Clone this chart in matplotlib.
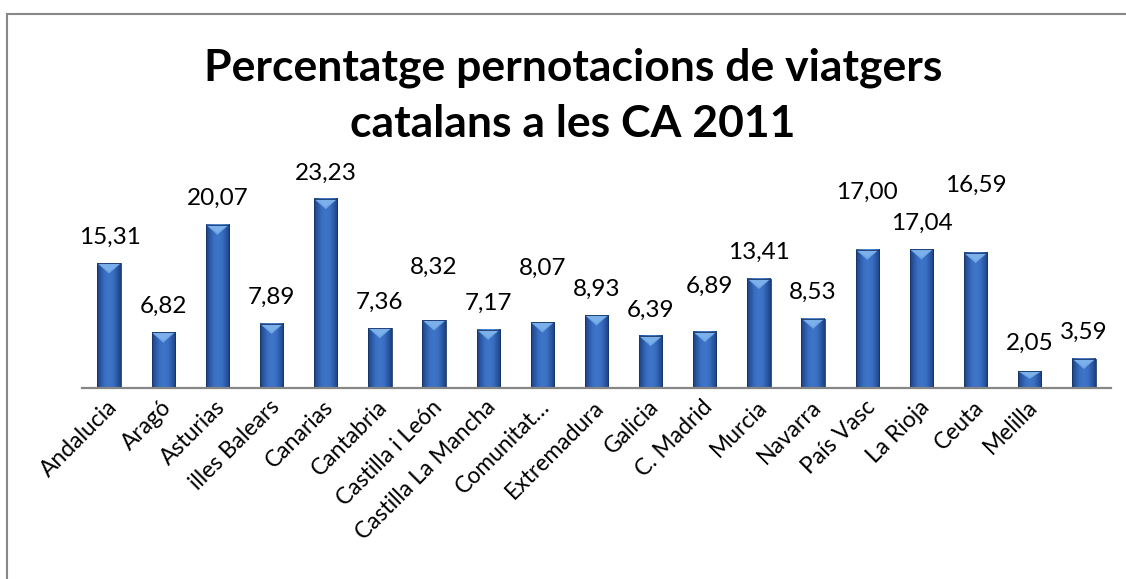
import matplotlib

matplotlib.use("Agg")
import matplotlib.pyplot as plt
import matplotlib.transforms as mtransforms
import numpy as np
from matplotlib.colors import LinearSegmentedColormap
from matplotlib.patches import Polygon, Rectangle

regions = [
    "Andalucia", "Aragó", "Asturias", "illes Balears", "Canarias", "Cantabria",
    "Castilla i León", "Castilla La Mancha", "Comunitat…", "Extremadura", "Galicia",
    "C. Madrid", "Murcia", "Navarra", "País Vasc", "La Rioja", "Ceuta", "Melilla", "",
]
percent = [
    15.31, 6.82, 20.07, 7.89, 23.23, 7.36, 8.32, 7.17, 8.07, 8.93,
    6.39, 6.89, 13.41, 8.53, 17.00, 17.04, 16.59, 2.05, 3.59,
]
title_lines = ["Percentatge pernotacions de viatgers", "catalans a les CA 2011"]

# extra lift (px) the original gave some data labels to dodge each other
label_lift = [0, 0, 0, 0, 0, 0, 27, 0, 28, 0, 0, 20, 0, 0, 31, 0, 42, 2, 0]
label_shift = [1, 0, 0, 0, 0, 0, 0, 0, 0, 0, 0, 5, 0, 0, 0, 0, 0, 0, 0]

W, H = 1126, 579
fig = plt.figure(figsize=(W / 100, H / 100), dpi=100)
fig.patch.set_facecolor("white")

base_y = 388
px_per_unit = 8.14
ymax = 25
ax = fig.add_axes([82 / W, (H - base_y) / H, (1111 - 82) / W, ymax * px_per_unit / H])

x = np.arange(len(percent))
width = 0.43
cmap = LinearSegmentedColormap.from_list(
    "bevel", ["#1c3f7c", "#2b5ba8", "#3a6fc2", "#3f76c8", "#3a6fc2", "#2b5ba8", "#1c3f7c"]
)
grad = np.linspace(0, 1, 64).reshape(1, -1)

for xi, val in zip(x, percent):
    left, right = xi - width / 2, xi + width / 2
    # soft shadow under the bar
    ax.add_patch(Rectangle((left - 0.05, -0.35), width + 0.1, 0.35, color="#dcdcdc",
                           lw=0, zorder=1))
    ax.imshow(grad, cmap=cmap, extent=[left, right, 0, val], aspect="auto", zorder=2,
              interpolation="bilinear")
    depth = min(1.25, val * 0.45)
    ax.add_patch(Polygon([(left, val), (right, val), (xi, val - depth)], closed=True,
                         facecolor="#6fa6e6", edgecolor="none", zorder=3))
    ax.add_patch(Polygon([(left + 0.04, val - 0.12), (right - 0.04, val - 0.12),
                          (xi, val - depth * 0.75)], closed=True,
                         facecolor="#86b8ef", edgecolor="none", alpha=0.6, zorder=3))
    ax.add_patch(Rectangle((left, 0), width, val, fill=False, edgecolor="#173566",
                           lw=0.6, zorder=4))

for xi, val, lift, shift in zip(x, percent, label_lift, label_shift):
    ax.annotate(f"{val:.2f}".replace(".", ","), (xi, val), xytext=(shift, 26 + lift),
                textcoords="offset pixels", ha="center", va="center",
                fontsize=17.5, family="Lato", color="black", annotation_clip=False)

ax.set_xlim(-0.5, len(percent) - 0.5)
ax.set_ylim(0, ymax)
ax.set_yticks([])
ax.set_xticks(x)
ax.set_xticklabels(regions, rotation=45, ha="right", va="top", rotation_mode="anchor",
                   fontsize=16.5, family="Lato")
ax.tick_params(axis="x", length=0, pad=6)
nudge = mtransforms.ScaledTranslation(-3 / 100, 0, fig.dpi_scale_trans)
for lbl in ax.get_xticklabels():
    lbl.set_transform(lbl.get_transform() + nudge)
for side in ["left", "right", "top"]:
    ax.spines[side].set_visible(False)
ax.spines["bottom"].set_color("#868686")
ax.spines["bottom"].set_linewidth(1.6)
ax.spines["bottom"].set_zorder(5)
ax.patch.set_visible(False)

for line, baseline in zip(title_lines, [80, 137]):
    fig.text(573 / W, 1 - baseline / H, line, ha="center", va="baseline", fontsize=32,
             fontweight="bold", family="Lato")

# chart frame (only top and left edges fall inside the image)
fig.add_artist(Rectangle((6.5 / W, -0.2), 1.5, 1.2 - 13.5 / H, transform=fig.transFigure,
                         fill=False, edgecolor="#888888", lw=1.5))

fig.savefig("out.png", dpi=100)
